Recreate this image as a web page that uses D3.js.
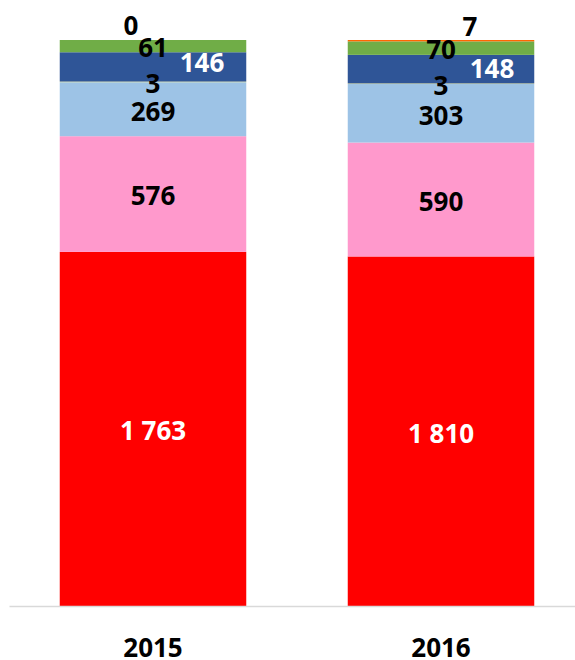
<!DOCTYPE html>
<html>
<head>
<meta charset="utf-8">
<script src="https://cdn.jsdelivr.net/npm/d3@7"></script>
<style>
  body { margin: 0; background: #fff; }
  text { font-family: "Open Sans", sans-serif; font-weight: bold; font-size: 26px; }
</style>
</head>
<body>
<div id="chart"></div>
<script>
var years = ["2015", "2016"];
var series = ["s1", "s2", "s3", "s4", "s5", "s6", "s7"];
var s1 = [1763, 1810];
var s2 = [576, 590];
var s3 = [269, 303];
var s4 = [3, 3];
var s5 = [146, 148];
var s6 = [61, 70];
var s7 = [0, 7];

var colors = ["#FF0000", "#FF99CC", "#9DC3E6", "#E4E87C", "#2F5597", "#70AD47", "#FF6600"];
var labelColors = ["#fff", "#000", "#000", "#000", "#fff", "#000", "#000"];
// manual nudges of the data labels, like in the original
var nudgeX = [[0, 0], [0, 0], [0, 0], [0, 0], [49, 51], [0, 0], [-22, 29]];
var nudgeY = [[2, 2], [2, 2], [2, 2], [2, 2], [-4, -1], [2, 2], [-14, -14]];

var width = 575, height = 660;
var margins = { top: 40, bottom: 54, left: 9 };

var values = [s1, s2, s3, s4, s5, s6, s7];
var rows = years.map(function (y, i) {
  var r = { year: y };
  series.forEach(function (s, j) { r[s] = values[j][i]; });
  return r;
});

// 100% stacked
var stack = d3.stack().keys(series).offset(d3.stackOffsetExpand);
var stacked = stack(rows);

var x = d3.scaleBand()
  .domain(years)
  .range([margins.left, margins.left + 576])
  .paddingInner(0.3524)
  .paddingOuter(0.1762);

var y = d3.scaleLinear()
  .domain([0, 1])
  .range([height - margins.bottom, margins.top]);

var svg = d3.select("#chart")
  .append("svg")
  .attr("width", width)
  .attr("height", height);

// bars
var layers = svg.selectAll("g.layer")
  .data(stacked)
  .enter()
  .append("g")
  .attr("class", "layer")
  .attr("fill", function (d, i) { return colors[i]; });

layers.selectAll("rect")
  .data(function (d) { return d; })
  .enter()
  .append("rect")
  .attr("x", function (d) { return x(d.data.year); })
  .attr("width", x.bandwidth())
  .attr("y", function (d) { return y(d[1]); })
  .attr("height", function (d) { return y(d[0]) - y(d[1]); });

// axis line + year labels
var xAxis = d3.axisBottom(x).tickSize(0).tickPadding(33);
var axisG = svg.append("g")
  .attr("transform", "translate(0," + (height - margins.bottom) + ")")
  .call(xAxis);
axisG.select(".domain").attr("stroke", "#D9D9D9").attr("stroke-width", 1.5);
axisG.selectAll("text")
  .attr("fill", "#000")
  .style("font-family", "'Open Sans', sans-serif")
  .style("font-size", "26px")
  .style("font-weight", "bold");

// data labels
stacked.forEach(function (layer, i) {
  svg.append("g")
    .selectAll("text")
    .data(layer)
    .enter()
    .append("text")
    .attr("text-anchor", "middle")
    .attr("fill", labelColors[i])
    .attr("x", function (d, k) { return x(d.data.year) + x.bandwidth() / 2 + nudgeX[i][k]; })
    .attr("y", function (d, k) { return (y(d[0]) + y(d[1])) / 2 + nudgeY[i][k]; })
    .attr("dy", "0.36em")
    .text(function (d, k) { return d3.format(",")(values[i][k]).replace(/,/g, " "); });
});
</script>
</body>
</html>
